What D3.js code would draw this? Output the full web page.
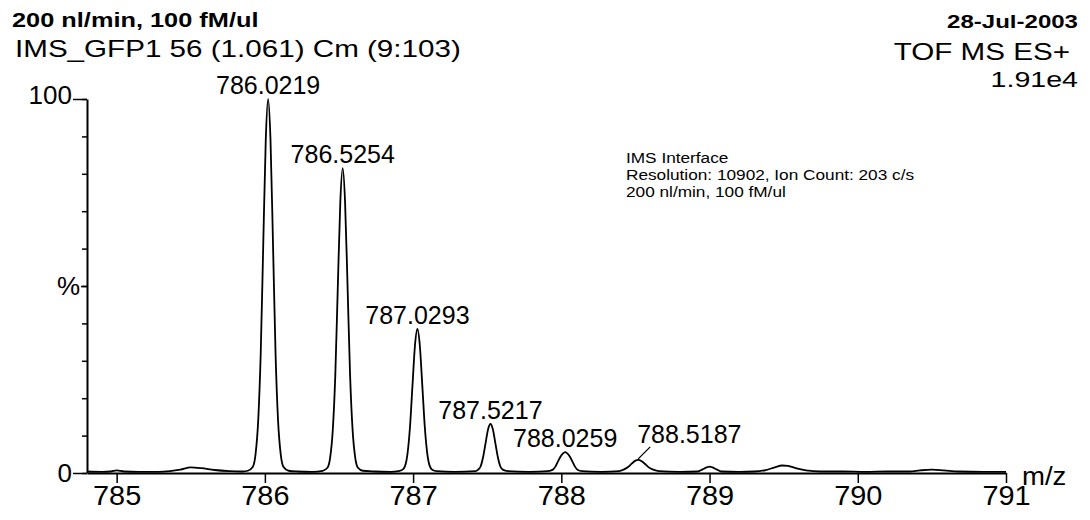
<!DOCTYPE html>
<html>
<head>
<meta charset="utf-8">
<style>
  body { margin: 0; background: #fff; }
  svg text { font-family: 'Liberation Sans', Arial, Helvetica, sans-serif; fill: #000; }
  .axis path, .axis line { stroke: #000; }
  .trace { fill: none; stroke: #000; stroke-width: 1.8px; stroke-linejoin: round; }
</style>
</head>
<body>
<svg id="chart"></svg>
<script src="https://cdn.jsdelivr.net/npm/d3@7"></script>
<script>
    // ---- data ----
    var xTicks = [785, 786, 787, 788, 789, 790, 791];
    var yMinor = [0, 10, 20, 30, 40, 50, 60, 70, 80, 90, 100];
    var yMajor = [0, 50, 100];
    var yMajorLabels = ['0', '%', '100'];
    var peakMz = [786.0219, 786.5254, 787.0293, 787.5217, 788.0259, 788.5187];
    var peakPct = [100, 81.5, 38.5, 13.1, 5.6, 3.5];
    var headerLeft = ['200 nl/min, 100 fM/ul', 'IMS_GFP1 56 (1.061) Cm (9:103)'];
    var headerRight = ['28-Jul-2003', 'TOF MS ES+', '1.91e4'];
    var noteLines = ['IMS Interface', 'Resolution: 10902, Ion Count: 203 c/s', '200 nl/min, 100 fM/ul'];
    // profile trace, [m/z, % of base peak]
    var spectrum = [
        [784.80, 0.4], [784.90, 0.3], [784.96, 0.4], [785.00, 0.7], [785.05, 0.4], [785.15, 0.3],
        [785.28, 0.3], [785.36, 0.5], [785.43, 0.9], [785.50, 1.5], [785.57, 1.3], [785.66, 0.8],
        [785.76, 0.5], [785.85, 0.4],
        [785.885, 0.6], [785.918, 1.6], [785.937, 5], [785.955, 14], [785.972, 32], [785.989, 61],
        [786.006, 89], [786.022, 100], [786.038, 89], [786.055, 61], [786.072, 32], [786.089, 14],
        [786.107, 5], [786.126, 1.6], [786.16, 0.6], [786.22, 0.4], [786.32, 0.3],
        [786.39, 0.6], [786.422, 1.4], [786.44, 4], [786.458, 11.4], [786.475, 26], [786.492, 49.7],
        [786.509, 72.5], [786.525, 81.5], [786.541, 72.5], [786.558, 49.7], [786.575, 26], [786.592, 11.4],
        [786.61, 4], [786.628, 1.4], [786.66, 0.6], [786.74, 0.4], [786.85, 0.3], [786.90, 0.5],
        [786.929, 0.9], [786.946, 1.9], [786.963, 5.4], [786.979, 12.3], [786.996, 23.5], [787.013, 34.3],
        [787.029, 38.5], [787.045, 34.3], [787.062, 23.5], [787.079, 12.3], [787.095, 5.4], [787.112, 1.9],
        [787.129, 0.9], [787.16, 0.5], [787.28, 0.3],
        [787.42, 0.5], [787.439, 0.9], [787.456, 1.8], [787.472, 4.2], [787.489, 8], [787.506, 11.7],
        [787.522, 13.1], [787.538, 11.7], [787.555, 8], [787.572, 4.2], [787.588, 1.8], [787.605, 0.9],
        [787.64, 0.5], [787.78, 0.3],
        [787.91, 0.5], [787.943, 0.9], [787.96, 1.7], [787.976, 3.0], [787.993, 4.3], [788.01, 5.2],
        [788.026, 5.6], [788.042, 5.2], [788.059, 4.3], [788.076, 3.0], [788.092, 1.7], [788.109, 0.9],
        [788.14, 0.5], [788.27, 0.3],
        [788.39, 0.5], [788.42, 0.9], [788.45, 1.6], [788.475, 2.5], [788.50, 3.3], [788.519, 3.5],
        [788.54, 3.2], [788.565, 2.4], [788.59, 1.5], [788.62, 0.9], [788.66, 0.5], [788.80, 0.3],
        [788.92, 0.4], [788.95, 0.9], [788.98, 1.5], [789.00, 1.7], [789.02, 1.5], [789.05, 0.9],
        [789.08, 0.4], [789.20, 0.3], [789.30, 0.4], [789.38, 0.8], [789.44, 1.5], [789.49, 2.0],
        [789.53, 1.9], [789.58, 1.3], [789.65, 0.7], [789.75, 0.4], [789.90, 0.4], [790.05, 0.3],
        [790.20, 0.4], [790.35, 0.4], [790.42, 0.7], [790.50, 0.9], [790.58, 0.7], [790.68, 0.4],
        [790.85, 0.3], [791.00, 0.3]
    ];

    var width = 1090;
    var height = 520;
    var g_left = 87;
    var g_right = 1006;
    var g_top = 99;
    var g_bottom = 473;

    var svg = d3.select('#chart')
        .attr('width', width)
        .attr('height', height);

    var x = d3.scaleLinear().domain([784.8, 791]).range([g_left, g_right]);
    var y = d3.scaleLinear().domain([0, 100]).range([g_bottom, g_top]);

    // text stretched sideways like the scanned original
    function label(px, py, str, size, sx, anchor, weight) {
        return svg.append('text')
            .attr('transform', 'translate(' + px + ',' + py + ') scale(' + sx + ',1)')
            .attr('text-anchor', anchor || 'start')
            .style('font-size', size + 'px')
            .style('font-weight', weight || 'normal')
            .text(str);
    }

    // headers
    label(12, 27, headerLeft[0], 19.5, 1.3, 'start', 'bold');
    label(15, 57, headerLeft[1], 23.5, 1.26, 'start');
    label(1078, 28, headerRight[0], 18.5, 1.3, 'end', 'bold');
    label(1070, 60, headerRight[1], 23.5, 1.26, 'end');
    label(1078, 87, headerRight[2], 22, 1.3, 'end');

    noteLines.forEach(function(t, i) {
        label(626, 163 + i * 17, t, 14, 1.23, 'start');
    });

    // -----------------------------------
    // axes
    var xAxis = d3.axisBottom(x).tickValues(xTicks).tickSize(10).tickSizeOuter(0)
        .tickPadding(3).tickFormat(d3.format('d'));
    var axisX = svg.append('g').attr('class', 'axis')
        .attr('transform', 'translate(0,' + g_bottom + ')')
        .call(xAxis);
    axisX.select('.domain').attr('stroke-width', 2);
    axisX.selectAll('line').attr('stroke-width', 1.5);
    axisX.selectAll('text')
        .attr('font-family', null).attr('font-size', null)
        .style('font-size', '27px')
        .attr('transform', 'scale(1.07,1)');

    var yMinorAxis = d3.axisLeft(y).tickValues(yMinor).tickSize(5).tickSizeOuter(0).tickFormat('');
    var axisY = svg.append('g').attr('class', 'axis')
        .attr('transform', 'translate(' + g_left + ',0)')
        .call(yMinorAxis);
    axisY.select('.domain').attr('stroke-width', 2);
    axisY.selectAll('line').attr('stroke-width', 1.5);

    var yMajorAxis = d3.axisLeft(y).tickValues(yMajor).tickSize(14).tickSizeOuter(0).tickPadding(1)
        .tickFormat(function(d) { return yMajorLabels[yMajor.indexOf(d)]; });
    var axisY2 = svg.append('g').attr('class', 'axis')
        .attr('transform', 'translate(' + g_left + ',0)')
        .call(yMajorAxis);
    axisY2.select('.domain').remove();
    axisY2.selectAll('line').attr('stroke-width', 1.5)
        .attr('x2', function(d) { return d === 50 ? -6 : -14; });
    axisY2.selectAll('text')
        .attr('font-family', null).attr('font-size', null)
        .style('font-size', '26px')
        .attr('x', function(d) { return d === 50 ? -7 : -15; })
        .attr('dy', function(d) { return d === 100 ? '0.16em' : '0.32em'; });

    label(1022, 485, 'm/z', 26, 1.06, 'start');

    // -----------------------------------
    // trace
    var line = d3.line().curve(d3.curveMonotoneX)
        .x(function(d) { return x(d[0]); })
        .y(function(d) { return y(d[1]); });
    svg.append('path').datum(spectrum)
        .attr('class', 'trace')
        .attr('d', line);

    // peak labels
    var last = peakMz.length - 1;
    peakMz.forEach(function(mz, i) {
        var px = x(mz), py = y(peakPct[i]);
        if (i === last) {
            // crowded: label pushed right with a leader
            svg.append('line')
                .attr('x1', px).attr('y1', py - 1)
                .attr('x2', px + 12).attr('y2', py - 13)
                .attr('stroke', '#000').attr('stroke-width', 1.3);
            label(px - 1, py - 17, mz.toFixed(4), 25, 1, 'start');
        } else {
            label(px, py - 5, mz.toFixed(4), 25, 1, 'middle');
        }
    });
</script>
</body>
</html>
